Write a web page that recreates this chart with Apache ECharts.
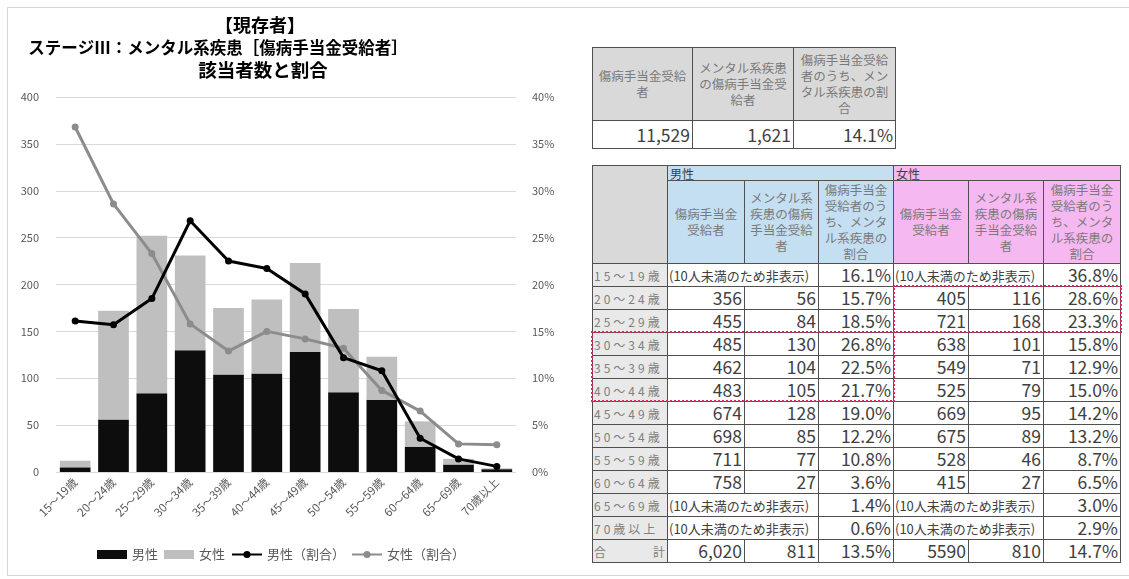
<!DOCTYPE html>
<html><head><meta charset="utf-8">
<script src="https://cdn.jsdelivr.net/npm/echarts@6/dist/echarts.min.js"></script>
<style>
html,body{margin:0;padding:0;background:#fff;font-family:"Noto Sans CJK JP","Noto Sans",sans-serif;}
#wrap{position:relative;width:1129px;height:579px;overflow:hidden;}
#frame{position:absolute;left:7px;top:7px;width:1130px;height:569px;border:1px solid #d4d4e4;box-sizing:border-box;}
#chart{position:absolute;left:0;top:0;width:585px;height:579px;}
table{border-collapse:collapse;table-layout:fixed;position:absolute;color:#404040;}
td{border:1px solid #505050;padding:0 2px;overflow:hidden;white-space:nowrap;}
.hd{font-size:12.5px;color:#7a7a7a;text-align:center;white-space:normal;line-height:16px;background:#d9d9d9;padding:0 4px;word-break:break-all;}
.num{font-size:17.5px;text-align:right;line-height:20px;}
.age{font-size:12px;color:#808080;background:#e9e9e9;letter-spacing:3px;padding-left:1px;}
.na{font-size:13px;text-align:left;padding-left:1px;}
.m{background:#c4def2;}
.f{background:#f6b8f1;}
.grp{font-size:12px;text-align:left;color:#404040;line-height:13px;}
.box{position:absolute;border:2px dotted #e4235e;box-sizing:border-box;}
</style></head>
<body><div id="wrap">
<div id="frame"></div>
<div id="chart"></div>
<table id="t1" style="left:592px;top:47px;width:303px;"></table>
<table id="t2" style="left:592px;top:165px;width:528px;"></table>
<div class="box" style="left:893px;top:285px;width:229px;height:48px;"></div>
<div class="box" style="left:591px;top:331px;width:304px;height:71px;"></div>
</div>
<script>
// ---- chart data ----
const categories = ['15～19歳','20～24歳','25～29歳','30～34歳','35～39歳','40～44歳','45～49歳','50～54歳','55～59歳','60～64歳','65～69歳','70歳以上'];
const maleCount   = [5, 56, 84, 130, 104, 105, 128, 85, 77, 27, 8, 3];
const femaleCount = [7, 116, 168, 101, 71, 79, 95, 89, 46, 27, 6, 1];
const maleRate    = [16.1, 15.7, 18.5, 26.8, 22.5, 21.7, 19.0, 12.2, 10.8, 3.6, 1.4, 0.6];
const femaleRate  = [36.8, 28.6, 23.3, 15.8, 12.9, 15.0, 14.2, 13.2, 8.7, 6.5, 3.0, 2.9];
const titleLines  = ['【現存者】','ステージⅢ：メンタル系疾患［傷病手当金受給者］','該当者数と割合'];
const legendNames = ['男性','女性','男性（割合）','女性（割合）'];

// ---- table data ----
const summaryHeader = ['傷病手当金受給者','メンタル系疾患の傷病手当金受給者','傷病手当金受給者のうち、メンタル系疾患の割合'];
const summaryValues = ['11,529','1,621','14.1%'];
const groupHeader = ['男性','女性'];
const subHeader = ['傷病手当金受給者','メンタル系疾患の傷病手当金受給者','傷病手当金受給者のうち、メンタル系疾患の割合'];
const ageLabels = ['15～19歳','20～24歳','25～29歳','30～34歳','35～39歳','40～44歳','45～49歳','50～54歳','55～59歳','60～64歳','65～69歳','70歳以上','合　　計'];
const maleTotal   = [null,'356','455','485','462','483','674','698','711','758',null,null,'6,020'];
const maleMental  = [null,'56','84','130','104','105','128','85','77','27',null,null,'811'];
const maleRateT   = ['16.1%','15.7%','18.5%','26.8%','22.5%','21.7%','19.0%','12.2%','10.8%','3.6%','1.4%','0.6%','13.5%'];
const femTotal    = [null,'405','721','638','549','525','669','675','528','415',null,null,'5590'];
const femMental   = [null,'116','168','101','71','79','95','89','46','27',null,null,'810'];
const femRateT    = ['36.8%','28.6%','23.3%','15.8%','12.9%','15.0%','14.2%','13.2%','8.7%','6.5%','3.0%','2.9%','14.7%'];
const hiddenText = '(10人未満のため非表示)';

// build tables
const t1 = document.getElementById('t1');
t1.innerHTML = '<colgroup><col style="width:100px"><col style="width:101px"><col style="width:102px"></colgroup>' +
  '<tr style="height:73px">' + summaryHeader.map(h=>'<td class="hd">'+h+'</td>').join('') + '</tr>' +
  '<tr style="height:28px">' + summaryValues.map(v=>'<td class="num">'+v+'</td>').join('') + '</tr>';

const t2 = document.getElementById('t2');
let h = '<colgroup><col style="width:75px"><col style="width:77px"><col style="width:74px"><col style="width:75px"><col style="width:75px"><col style="width:75px"><col style="width:77px"></colgroup>';
h += '<tr style="height:15px"><td rowspan="2" style="background:#d9d9d9"></td><td colspan="3" class="grp m">'+groupHeader[0]+'</td><td colspan="3" class="grp f">'+groupHeader[1]+'</td></tr>';
h += '<tr style="height:83px">' + subHeader.map(s=>'<td class="hd m">'+s+'</td>').join('') + subHeader.map(s=>'<td class="hd f">'+s+'</td>').join('') + '</tr>';
ageLabels.forEach((a,i)=>{
  h += '<tr style="height:23px">';
  if(i===ageLabels.length-1) h += '<td class="age" style="letter-spacing:0"><span style="float:left">合</span><span style="float:right">計</span></td>';
  else h += '<td class="age">'+a+'</td>';
  if(maleTotal[i]===null) h += '<td colspan="2" class="na">'+hiddenText+'</td>';
  else h += '<td class="num">'+maleTotal[i]+'</td><td class="num">'+maleMental[i]+'</td>';
  h += '<td class="num">'+maleRateT[i]+'</td>';
  if(femTotal[i]===null) h += '<td colspan="2" class="na">'+hiddenText+'</td>';
  else h += '<td class="num">'+femTotal[i]+'</td><td class="num">'+femMental[i]+'</td>';
  h += '<td class="num">'+femRateT[i]+'</td>';
  h += '</tr>';
});
t2.innerHTML = h;

// chart
const chart = echarts.init(document.getElementById('chart'));
const axisColor = '#595959';
const tStyle = {fontWeight:'bold', color:'#000'};
chart.setOption({
  animation:false,
  textStyle:{fontFamily:'"Noto Sans CJK JP", sans-serif'},
  title:[
    {text:titleLines[0], left:255, textAlign:'center', top:11, textStyle:Object.assign({fontSize:18}, tStyle)},
    {text:titleLines[1], left:213, textAlign:'center', top:34, textStyle:Object.assign({fontSize:16.5}, tStyle)},
    {text:titleLines[2], left:258, textAlign:'center', top:56, textStyle:Object.assign({fontSize:18.5}, tStyle)}
  ],
  legend:{
    bottom:13, left:92, itemGap:6, itemWidth:30, itemHeight:9,
    textStyle:{color:axisColor, fontSize:13},
    data:[
      {name:legendNames[0], icon:'rect'},
      {name:legendNames[1], icon:'rect'},
      {name:legendNames[2]},
      {name:legendNames[3]}
    ]
  },
  grid:{left:56, right:69, top:97, bottom:107},
  xAxis:{
    type:'category', data:categories,
    axisLine:{show:false}, axisTick:{show:false},
    axisLabel:{rotate:45, color:axisColor, fontSize:11.5, interval:0, margin:8}
  },
  yAxis:[
    {type:'value', min:0, max:400, interval:50,
     axisLine:{show:false}, axisTick:{show:false},
     axisLabel:{color:axisColor, fontSize:11, margin:17},
     splitLine:{lineStyle:{color:'#d9d9d9'}}},
    {type:'value', min:0, max:0.4, interval:0.05,
     axisLine:{show:false}, axisTick:{show:false},
     axisLabel:{color:axisColor, fontSize:11, margin:16, formatter:v=>Math.round(v*100)+'%'},
     splitLine:{show:false}}
  ],
  series:[
    {name:legendNames[0], type:'bar', stack:'a', data:maleCount, barCategoryGap:'20%', itemStyle:{color:'#0d0d0d'}},
    {name:legendNames[1], type:'bar', stack:'a', data:femaleCount, itemStyle:{color:'#bfbfbf'}},
    {name:legendNames[2], type:'line', yAxisIndex:1, data:maleRate.map(v=>v/100), symbol:'circle', symbolSize:7,
     lineStyle:{color:'#000', width:3}, itemStyle:{color:'#000'}, z:5},
    {name:legendNames[3], type:'line', yAxisIndex:1, data:femaleRate.map(v=>v/100), symbol:'circle', symbolSize:7,
     lineStyle:{color:'#8c8c8c', width:3}, itemStyle:{color:'#8c8c8c'}, z:4}
  ]
});
</script>
</body></html>
